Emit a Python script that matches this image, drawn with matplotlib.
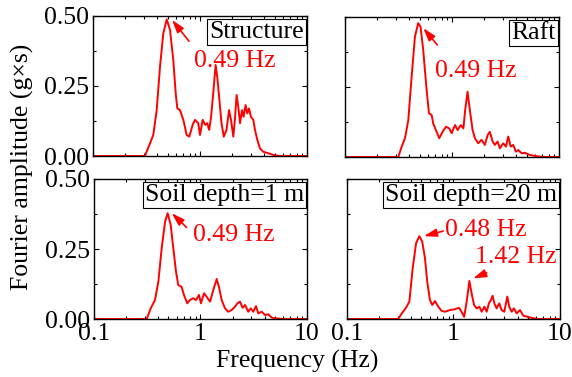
import numpy as np
import matplotlib
matplotlib.use('Agg')
import matplotlib.pyplot as plt
from matplotlib.ticker import LogLocator, MultipleLocator, NullFormatter, FixedFormatter, FixedLocator

plt.rcParams['font.family'] = ['Liberation Serif', 'DejaVu Serif']
plt.rcParams['font.size'] = 18.5

# ---- data (frequency in Hz, amplitude in g*s) ----
f_struct = [0.1, 0.30, 0.306, 0.341, 0.366, 0.394, 0.423, 0.454, 0.489, 0.525, 0.563, 0.593,
            0.614, 0.650, 0.699, 0.751, 0.794, 0.854, 0.897, 0.964, 1.0, 1.06, 1.12, 1.17,
            1.22, 1.27, 1.33, 1.40, 1.45, 1.51, 1.59, 1.67, 1.77, 1.87, 1.95, 2.05, 2.12,
            2.20, 2.28, 2.37, 2.47, 2.56, 2.67, 2.77, 2.87, 3.00, 3.15, 3.27, 3.44, 3.64,
            3.91, 4.35, 4.84, 5.5, 10.0]
a_struct = [0.0, 0.0, 0.0, 0.045, 0.075, 0.164, 0.319, 0.438, 0.488, 0.45, 0.343, 0.224,
            0.170, 0.164, 0.129, 0.075, 0.069, 0.111, 0.129, 0.117, 0.075, 0.129, 0.111, 0.117,
            0.093, 0.140, 0.224, 0.325, 0.283, 0.212, 0.117, 0.069, 0.093, 0.164, 0.129, 0.069, 0.129,
            0.218, 0.176, 0.117, 0.164, 0.140, 0.182, 0.152, 0.170, 0.140, 0.129, 0.093, 0.057, 0.027,
            0.015, 0.010, 0.004, 0.0, 0.0]

f_raft = [0.1, 0.31, 0.315, 0.339, 0.364, 0.391, 0.42, 0.451, 0.484, 0.509, 0.539, 0.580,
          0.61, 0.646, 0.668, 0.708, 0.761, 0.818, 0.879, 0.944, 0.993, 1.07, 1.13, 1.21,
          1.28, 1.33, 1.40, 1.47, 1.56, 1.64, 1.76, 1.89, 2.03, 2.16, 2.26, 2.40, 2.52,
          2.67, 2.81, 3.02, 3.2, 3.36, 3.54, 3.74, 3.96, 4.17, 4.48, 4.81, 5.36, 6.19, 7.0, 10.0]
a_raft = [0.0, 0.0, 0.0, 0.037, 0.067, 0.132, 0.287, 0.43, 0.478, 0.465, 0.382, 0.239,
          0.156, 0.15, 0.12, 0.096, 0.067, 0.09, 0.108, 0.102, 0.085, 0.114, 0.096, 0.114,
          0.102, 0.168, 0.233, 0.168, 0.096, 0.067, 0.049, 0.061, 0.043, 0.079, 0.09, 0.055, 0.043,
          0.055, 0.031, 0.049, 0.037, 0.073, 0.037, 0.043, 0.019, 0.025, 0.013, 0.015, 0.007, 0.003, 0.0, 0.0]

f_soil1 = [0.1, 0.31, 0.313, 0.341, 0.374, 0.402, 0.432, 0.465, 0.492, 0.525, 0.556, 0.589,
           0.619, 0.665, 0.699, 0.752, 0.796, 0.855, 0.908, 0.969, 1.01, 1.08, 1.14, 1.23,
           1.32, 1.42, 1.50, 1.58, 1.70, 1.82, 1.96, 2.11, 2.22, 2.35, 2.49, 2.62, 2.81,
           2.96, 3.13, 3.32, 3.49, 3.76, 4.04, 4.34, 4.66, 5.2, 6.0, 10.0]
a_soil1 = [0.0, 0.0, 0.0, 0.038, 0.068, 0.133, 0.252, 0.348, 0.378, 0.336, 0.252, 0.169,
           0.121, 0.115, 0.086, 0.056, 0.068, 0.074, 0.068, 0.086, 0.056, 0.092, 0.080, 0.062,
           0.104, 0.143, 0.11, 0.068, 0.038, 0.026, 0.032, 0.044, 0.056, 0.062, 0.04, 0.05, 0.026,
           0.038, 0.026, 0.046, 0.02, 0.026, 0.014, 0.017, 0.005, 0.002, 0.0, 0.0]

f_soil20 = [0.1, 0.30, 0.303, 0.327, 0.358, 0.385, 0.414, 0.445, 0.478, 0.509, 0.540, 0.567,
            0.601, 0.632, 0.670, 0.72, 0.774, 0.832, 0.927, 1.03, 1.13, 1.19, 1.26, 1.33,
            1.41, 1.48, 1.56, 1.65, 1.75, 1.84, 1.95, 2.05, 2.15, 2.25, 2.33, 2.42, 2.54,
            2.69, 2.83, 3.0, 3.2, 3.34, 3.52, 3.70, 3.92, 4.21, 4.52, 4.93, 5.42, 6.2, 10.0]
a_soil20 = [0.0, 0.0, 0.0, 0.02, 0.04, 0.062, 0.181, 0.27, 0.296, 0.276, 0.217, 0.133,
            0.068, 0.05, 0.064, 0.044, 0.029, 0.026, 0.032, 0.035, 0.04, 0.026, 0.008, 0.062,
            0.136, 0.092, 0.05, 0.038, 0.044, 0.026, 0.044, 0.026, 0.056, 0.068, 0.083, 0.056, 0.038,
            0.056, 0.032, 0.026, 0.08, 0.044, 0.026, 0.038, 0.02, 0.032, 0.012, 0.008, 0.004, 0.0, 0.0]

labels = ['Structure', 'Raft', 'Soil depth=1 m', 'Soil depth=20 m']
series = [(f_struct, a_struct), (f_raft, a_raft), (f_soil1, a_soil1), (f_soil20, a_soil20)]

# peak annotations: (text, text position, arrow tail, arrow head)
notes = [
    [('0.49 Hz', (0.88, 0.34), (0.79, 0.41), (0.547, 0.486))],
    [('0.49 Hz', (0.69, 0.308), (0.73, 0.40), (0.54, 0.46))],
    [('0.49 Hz', (0.845, 0.30), (0.741, 0.327), (0.537, 0.378))],
    [('0.48 Hz', (0.832, 0.318), (0.80, 0.314), (0.528, 0.296)),
     ('1.42 Hz', (1.59, 0.22), (2.05, 0.165), (1.53, 0.145))],
]

fig = plt.figure(figsize=(5.72, 3.77), dpi=100)
rects = [[0.1626, 0.5862, 0.374, 0.3714],
         [0.6031, 0.5836, 0.374, 0.3714],
         [0.1643, 0.1538, 0.3724, 0.3714],
         [0.6066, 0.1538, 0.3724, 0.3714]]

for i, (rect, (f, a)) in enumerate(zip(rects, series)):
    ax = fig.add_axes(rect)
    ax.plot(f, a, color='red', lw=1.4)
    ax.set_xscale('log')
    ax.set_xlim(0.1, 10)
    ax.set_ylim(0, 0.5)
    ax.xaxis.set_major_locator(FixedLocator([0.1, 1, 10]))
    ax.xaxis.set_major_formatter(FixedFormatter(['0.1', '1', '10']))
    ax.xaxis.set_minor_locator(LogLocator(base=10, subs=np.arange(2, 10)))
    ax.xaxis.set_minor_formatter(NullFormatter())
    ax.yaxis.set_major_locator(MultipleLocator(0.25))
    ax.yaxis.set_minor_locator(MultipleLocator(0.125))
    ax.yaxis.set_major_formatter(plt.FuncFormatter(lambda v, p: '%.2f' % v))
    ax.tick_params(which='both', direction='in', top=True, right=True)
    ax.tick_params(which='major', length=3.5, width=0.8, pad=3)
    ax.tick_params(which='minor', length=2, width=0.8)
    for s in ax.spines.values():
        s.set_linewidth(1.0)
    if i < 2:
        ax.tick_params(labelbottom=False)
    if i % 2 == 1:
        ax.tick_params(labelleft=False)
    ax.text(0.985, 0.965, labels[i], transform=ax.transAxes, ha='right', va='top',
            bbox=dict(boxstyle='square,pad=0.08', fc='white', ec='black', lw=0.8))
    for txt, tpos, tail, head in notes[i]:
        ax.annotate('', xy=head, xytext=tail,
                    arrowprops=dict(arrowstyle='-|>,head_length=0.7,head_width=0.22',
                                    color='red', lw=1.2, mutation_scale=11,
                                    shrinkA=0, shrinkB=0))
        ax.text(tpos[0], tpos[1], txt, color='red', ha='left', va='center')

fig.text(0.04, 0.557, 'Fourier amplitude (g×s)', rotation=90, ha='center', va='center')
fig.text(0.519, 0.042, 'Frequency (Hz)', ha='center', va='center')

fig.savefig('out.png', dpi=100)
